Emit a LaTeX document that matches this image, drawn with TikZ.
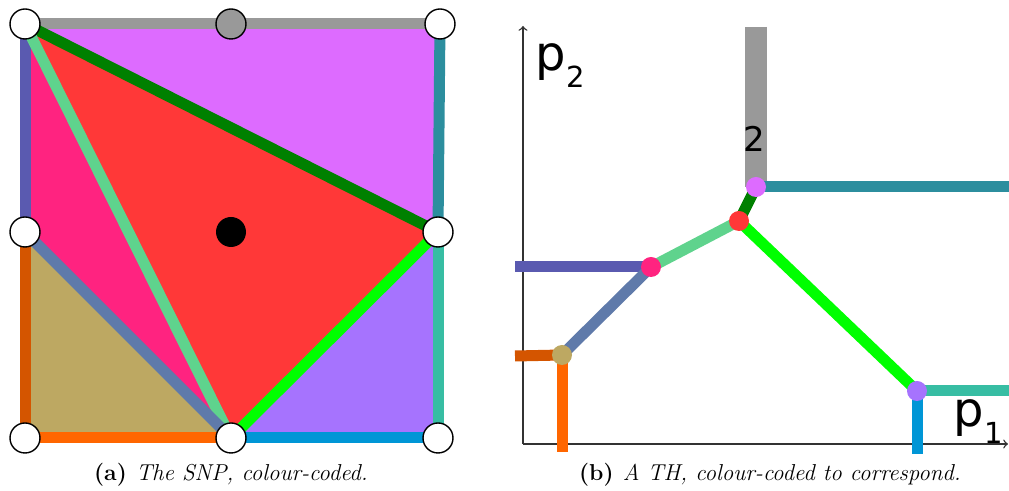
\documentclass[tikz,border=0pt]{standalone}
\usepackage{fontspec}
\newfontfamily\dv{DejaVu Sans}
\definecolor{cGray}{HTML}{999999}
\definecolor{cMag}{HTML}{DD6BFF}
\definecolor{cRed}{HTML}{FF3838}
\definecolor{cPink}{HTML}{FF2380}
\definecolor{cTan}{HTML}{BDA862}
\definecolor{cLil}{HTML}{A673FE}
\definecolor{cDkGreen}{HTML}{008000}
\definecolor{cLtGreen}{HTML}{5FD38D}
\definecolor{cSlate}{HTML}{5F7AAA}
\definecolor{cBrGreen}{HTML}{00FF00}
\definecolor{cIndigo}{HTML}{5A5AB0}
\definecolor{cDkOrange}{HTML}{D45500}
\definecolor{cOrange}{HTML}{FF6600}
\definecolor{cBlue}{HTML}{0096D6}
\definecolor{cSea}{HTML}{37BDA3}
\definecolor{cTeal}{HTML}{2C8E9E}
\definecolor{cAxis}{HTML}{333333}
\tikzset{
  vtx/.style={circle, draw=black, line width=0.7pt, fill=white, minimum size=15pt, inner sep=0pt},
  dotn/.style={circle, minimum size=10pt, inner sep=0pt},
  edge/.style={line width=5.5pt},
  axisline/.style={draw=cAxis, line width=0.7pt, ->},
  captxt/.style={font=\fontsize{11.5}{13}\selectfont, anchor=base},
  bigtxt/.style={font=\dv\fontsize{24}{24}\selectfont, anchor=base west, inner sep=0pt},
  subtxt/.style={font=\dv\fontsize{14.5}{14.5}\selectfont, anchor=base west, inner sep=0pt, yshift=-8.5pt}
}
\begin{document}
\begin{tikzpicture}[x=0.5pt,y=-0.5pt]
\useasboundingbox (0,0) rectangle (1009,491);
% ---------- left panel ----------
\coordinate (TL) at (25,24);
\coordinate (TM) at (231,24);
\coordinate (TR) at (440,24);
\coordinate (ML) at (25,232);
\coordinate (MR) at (438,232);
\coordinate (BL) at (25,438);
\coordinate (BM) at (231,438);
\coordinate (BR) at (438,438);
% regions
\fill[cMag] (TL) -- (TR) -- (MR) -- cycle;
\fill[cRed] (TL) -- (MR) -- (BM) -- cycle;
\fill[cPink] (TL) -- (ML) -- (BM) -- cycle;
\fill[cTan] (ML) -- (BL) -- (BM) -- cycle;
\fill[cLil] (BM) -- (BR) -- (MR) -- cycle;
% edges
\draw[edge, cGray] (TL) -- (TR);
\draw[edge, cIndigo] (TL) -- (ML);
\draw[edge, cDkOrange] (ML) -- (BL);
\draw[edge, cOrange] (BL) -- (BM);
\draw[edge, cBlue] (BM) -- (BR);
\draw[edge, cSea] (MR) -- (BR);
\draw[edge, cTeal] (TR) -- (MR);
\draw[edge, cDkGreen] (TL) -- (MR);
\draw[edge, cLtGreen] (TL) -- (BM);
\draw[edge, cSlate] (ML) -- (BM);
\draw[edge, cBrGreen] (BM) -- (MR);
% vertices
\node[vtx] (vTL) at (TL) {};
\node[vtx, fill=cGray] (vTM) at (TM) {};
\node[vtx] (vTR) at (TR) {};
\node[vtx] (vML) at (ML) {};
\node[vtx] (vMR) at (MR) {};
\node[vtx] (vBL) at (BL) {};
\node[vtx] (vBM) at (BM) {};
\node[vtx] (vBR) at (BR) {};
\node[circle, fill=black, minimum size=15pt, inner sep=0pt] (ctr) at (231,232) {};
\node[captxt] (capa) at (231,481) {\textbf{(a)}\hspace{0.4em}\textit{The SNP, colour-coded.}};
% ---------- right panel ----------
\coordinate (O) at (523,444);
\coordinate (Ytop) at (523,26);
\coordinate (Xend) at (1008,444);
\draw[axisline] (O) -- (Ytop);
\draw[axisline] (O) -- (Xend);
\coordinate (pA) at (756,187);
\coordinate (pB) at (739,221);
\coordinate (pC) at (651,267);
\coordinate (pD) at (562,355);
\coordinate (pE) at (917,391);
\coordinate (gTop) at (756,27);
\coordinate (tealEnd) at (1009,187);
\coordinate (indEnd) at (515,267);
\coordinate (dkoEnd) at (515,356);
\coordinate (orgEnd) at (562,452);
\coordinate (seaEnd) at (1009,391);
\coordinate (bluEnd) at (917,454);
\draw[line width=11pt, cGray] (gTop) -- (pA);
\draw[edge, cTeal] (pA) -- (tealEnd);
\draw[edge, cDkGreen] (pA) -- (pB);
\draw[edge, cLtGreen] (pB) -- (pC);
\draw[edge, cIndigo] (pC) -- (indEnd);
\draw[edge, cSlate] (pC) -- (pD);
\draw[edge, cDkOrange] (pD) -- (dkoEnd);
\draw[edge, cOrange] (pD) -- (orgEnd);
\draw[edge, cBrGreen] (pB) -- (pE);
\draw[edge, cSea] (pE) -- (seaEnd);
\draw[edge, cBlue] (pE) -- (bluEnd);
\node[dotn, fill=cMag] (dA) at (pA) {};
\node[dotn, fill=cRed] (dB) at (pB) {};
\node[dotn, fill=cPink] (dC) at (pC) {};
\node[dotn, fill=cTan] (dD) at (pD) {};
\node[dotn, fill=cLil] (dE) at (pE) {};
\node[font=\dv\fontsize{17}{17}\selectfont, anchor=base, inner sep=0pt] (mult) at (754,152) {2};
\node[bigtxt] (p2) at (535,71) {p};
\node[subtxt] (p2s) at (p2.base east) {2};
\node[bigtxt] (p1) at (953,427) {p};
\node[subtxt] (p1s) at (p1.base east) {1};
\node[captxt] (capb) at (770,481) {\textbf{(b)}\hspace{0.4em}\textit{A TH, colour-coded to correspond.}};
\end{tikzpicture}
\end{document}
